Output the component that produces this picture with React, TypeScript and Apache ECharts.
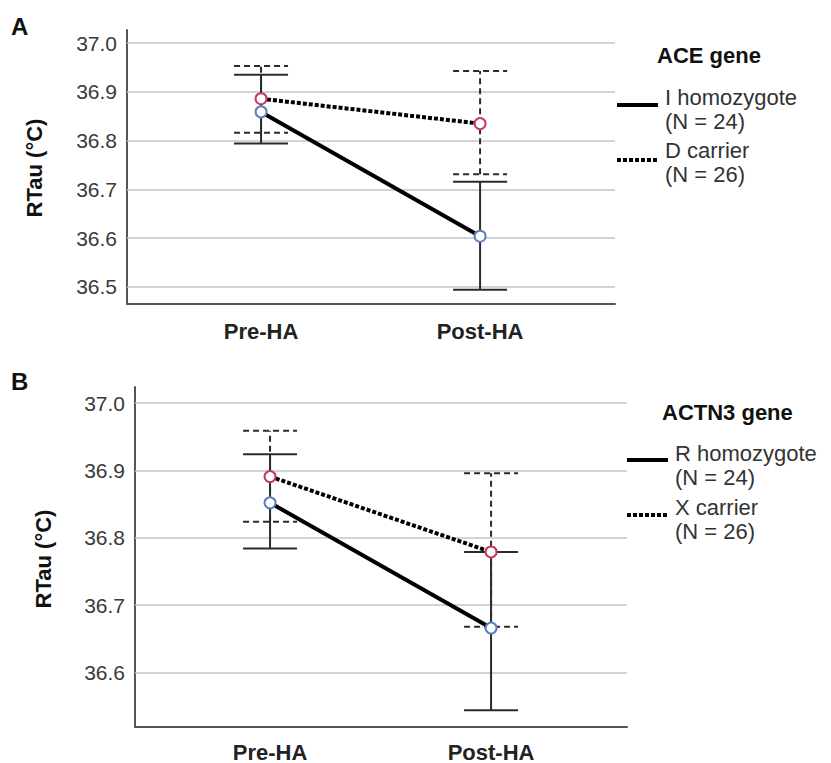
import React, { useEffect, useRef } from "react";
import * as echarts from "echarts";

const categories = ["Pre-HA", "Post-HA"];
const aTicks = [36.5, 36.6, 36.7, 36.8, 36.9, 37.0];
const bTicks = [36.6, 36.7, 36.8, 36.9, 37.0];

const aceNames = ["I homozygote\n(N = 24)", "D carrier\n(N = 26)"];
const actnNames = ["R homozygote\n(N = 24)", "X carrier\n(N = 26)"];

const aceIMean = [36.859, 36.604];
const aceILow = [36.794, 36.494];
const aceIHigh = [36.935, 36.716];
const aceDMean = [36.886, 36.835];
const aceDLow = [36.816, 36.731];
const aceDHigh = [36.953, 36.943];

const actnRMean = [36.852, 36.666];
const actnRLow = [36.784, 36.544];
const actnRHigh = [36.924, 36.779];
const actnXMean = [36.891, 36.779];
const actnXLow = [36.824, 36.668];
const actnXHigh = [36.959, 36.896];

const FONT = "'Liberation Sans', Arial, sans-serif";

function errSeries(idx: number, low: number[], high: number[], dashed: boolean) {
  return {
    type: "custom",
    xAxisIndex: idx,
    yAxisIndex: idx,
    silent: true,
    z: 3,
    encode: { x: 0, y: [1, 2] },
    data: low.map((l, i) => [i, l, high[i]]),
    renderItem: (params: any, api: any) => {
      const x = api.value(0);
      const pLo = api.coord([x, api.value(1)]);
      const pHi = api.coord([x, api.value(2)]);
      const hw = 27;
      const style: any = { stroke: "#2b2b2b", lineWidth: 2, fill: "none" };
      if (dashed) style.lineDash = [6, 4];
      return {
        type: "group",
        children: [
          { type: "line", shape: { x1: pLo[0], y1: pLo[1], x2: pHi[0], y2: pHi[1] }, style },
          { type: "line", shape: { x1: pLo[0] - hw, y1: pLo[1], x2: pLo[0] + hw, y2: pLo[1] }, style },
          { type: "line", shape: { x1: pHi[0] - hw, y1: pHi[1], x2: pHi[0] + hw, y2: pHi[1] }, style },
        ],
      };
    },
  };
}

function meanSeries(idx: number, name: string, mean: number[], dotted: boolean, ticks: number[] | null) {
  const s: any = {
    type: "line",
    name,
    xAxisIndex: idx,
    yAxisIndex: idx,
    z: 4,
    data: mean.map((m, i) => [i, m]),
    symbol: "emptyCircle",
    symbolSize: 11,
    lineStyle: { color: "#000", width: 4, type: dotted ? [4, 2] : "solid" },
    itemStyle: { color: dotted ? "#c23b5e" : "#5a7fbf", borderWidth: 1.5 },
  };
  if (ticks) {
    s.markLine = {
      silent: true,
      symbol: "none",
      label: { show: false },
      z: 1,
      lineStyle: { color: "#c4c4c4", width: 1.5, type: "solid" },
      data: ticks.map((t) => ({ yAxis: t })),
    };
  }
  return s;
}

function xAxis(idx: number, min: number, max: number, margin: number) {
  return {
    type: "value",
    gridIndex: idx,
    min,
    max,
    axisLine: { show: true, onZero: false, lineStyle: { color: "#555", width: 2 } },
    axisTick: { show: false },
    splitLine: { show: false },
    axisLabel: {
      customValues: [0, 1],
      formatter: (v: number) => categories[Math.round(v)] ?? "",
      fontFamily: FONT,
      fontSize: 22,
      fontWeight: "bold",
      color: "#222",
      margin,
    },
  };
}

function yAxis(idx: number, min: number, max: number, ticks: number[]) {
  return {
    type: "value",
    gridIndex: idx,
    min,
    max,
    axisLine: { show: true, onZero: false, lineStyle: { color: "#555", width: 2 } },
    axisTick: { show: false },
    splitLine: { show: false },
    axisLabel: {
      customValues: ticks,
      formatter: (v: number) => v.toFixed(1),
      fontFamily: FONT,
      fontSize: 21,
      color: "#3a3a3a",
      margin: 10,
    },
  };
}

function legendBlock(title: string, tx: number, ty: number, names: string[], lx1: number, lx2: number, textX: number, lineYs: number[], textYs: number[]) {
  const els: any[] = [
    {
      type: "text",
      x: tx,
      y: ty,
      style: { text: title, font: `bold 22px ${FONT}`, fill: "#111", textVerticalAlign: "middle" },
    },
  ];
  names.forEach((n, i) => {
    els.push({
      type: "line",
      shape: { x1: lx1, y1: lineYs[i], x2: lx2, y2: lineYs[i] },
      style: { stroke: "#000", lineWidth: 4, lineDash: i === 1 ? [4, 2] : null },
    });
    els.push({
      type: "text",
      x: textX,
      y: textYs[i],
      style: { text: n, font: `22px ${FONT}`, fill: "#333", lineHeight: 24, textVerticalAlign: "middle" },
    });
  });
  return els;
}

export default function App() {
  const ref = useRef<HTMLDivElement>(null);
  useEffect(() => {
    const chart = echarts.init(ref.current!, null, { renderer: "svg" });
    chart.setOption({
      animation: false,
      backgroundColor: "#fff",
      grid: [
        { left: 127, top: 30, width: 488, height: 274 },
        { left: 135, top: 387, width: 492, height: 342 },
      ],
      xAxis: [xAxis(0, -0.612, 1.616, 16), xAxis(1, -0.611, 1.615, 14)],
      yAxis: [yAxis(0, 36.465, 37.027, aTicks), yAxis(1, 36.519, 37.024, bTicks)],
      series: [
        errSeries(0, aceILow, aceIHigh, false),
        errSeries(0, aceDLow, aceDHigh, true),
        meanSeries(0, aceNames[0], aceIMean, false, aTicks),
        meanSeries(0, aceNames[1], aceDMean, true, null),
        errSeries(1, actnRLow, actnRHigh, false),
        errSeries(1, actnXLow, actnXHigh, true),
        meanSeries(1, actnNames[0], actnRMean, false, bTicks),
        meanSeries(1, actnNames[1], actnXMean, true, null),
      ],
      graphic: [
        { type: "text", x: 11, y: 26, style: { text: "A", font: `bold 24px ${FONT}`, fill: "#111", textVerticalAlign: "middle" } },
        { type: "text", x: 11, y: 381, style: { text: "B", font: `bold 24px ${FONT}`, fill: "#111", textVerticalAlign: "middle" } },
        {
          type: "text", x: 34, y: 168, rotation: Math.PI / 2,
          style: { text: "RTau (°C)", font: `bold 22px ${FONT}`, fill: "#111", textAlign: "center", textVerticalAlign: "middle" },
        },
        {
          type: "text", x: 43, y: 559, rotation: Math.PI / 2,
          style: { text: "RTau (°C)", font: `bold 22px ${FONT}`, fill: "#111", textAlign: "center", textVerticalAlign: "middle" },
        },
        ...legendBlock("ACE gene", 657, 55, aceNames, 617, 658, 665, [105, 160], [109, 162]),
        ...legendBlock("ACTN3 gene", 662, 412, actnNames, 627, 668, 675, [460, 515], [465, 519]),
      ],
    });
    return () => chart.dispose();
  }, []);
  return <div ref={ref} style={{ position: "fixed", left: 0, top: 0, width: 831, height: 763 }} />;
}
